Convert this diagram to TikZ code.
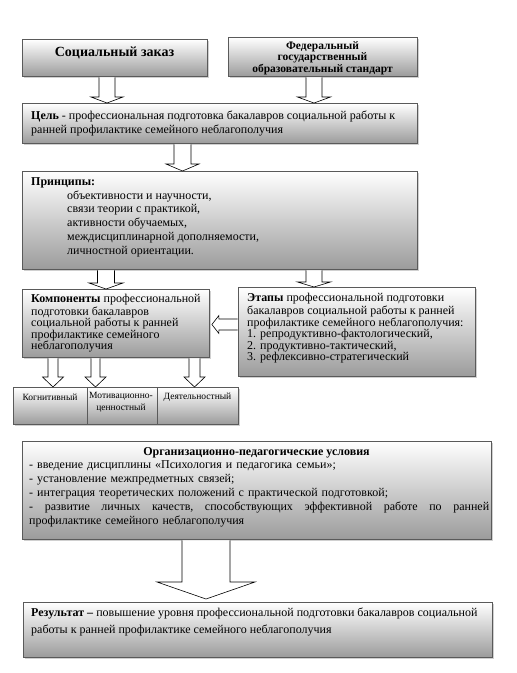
\documentclass[tikz,border=0pt]{standalone}
\usepackage{fontspec}
\setmainfont{Liberation Serif}
\usetikzlibrary{calc,shadows}
\definecolor{bordergray}{HTML}{5A5A5A}
\definecolor{boxgray}{HTML}{9B9B9B}
\newcommand\blkdown[7]{%
  \draw[barrow] let \p1=(#1.south), \p2=(#2.north) in
    (#3pt-#5pt,\y1-0.45pt) -- (#3pt-#5pt,\y2+#4pt+#7pt) -- (#3pt-#6pt,\y2+#4pt+#7pt)
    -- (#3pt,\y2+#7pt) -- (#3pt+#6pt,\y2+#4pt+#7pt) -- (#3pt+#5pt,\y2+#4pt+#7pt)
    -- (#3pt+#5pt,\y1-0.45pt);}
\newcommand\blkleft[7]{%
  \draw[barrow] let \p1=(#1.west), \p2=(#2.east) in
    (\x1-0.45pt,-#3pt+#5pt) -- (\x2+#7pt+#4pt,-#3pt+#5pt) -- (\x2+#7pt+#4pt,-#3pt+#6pt)
    -- (\x2+#7pt,-#3pt) -- (\x2+#7pt+#4pt,-#3pt-#6pt) -- (\x2+#7pt+#4pt,-#3pt-#5pt)
    -- (\x1-0.45pt,-#3pt-#5pt);}
\begin{document}
\begin{tikzpicture}[x=1pt,y=-1pt,
  box/.style={draw=bordergray, line width=0.9pt, top color=white, bottom color=boxgray,
    drop shadow={shadow xshift=2pt, shadow yshift=-2pt, fill=black!30, opacity=0.6},
    inner sep=0pt, anchor=north west},
  txt/.style={inner sep=0pt, anchor=north west, align=left, font=\fontsize{12}{14}\selectfont},
  ctxt/.style={inner sep=0pt, anchor=base},
  barrow/.style={draw=black, fill=white, line width=0.6pt, line join=miter}]
\useasboundingbox (0,0) rectangle (517,673);
\fill[white] (0,0) rectangle (517,673);

% boxes
\node[box, minimum width=185pt, minimum height=37pt] (social) at (22,39) {};
\node[box, minimum width=189pt, minimum height=39pt] (fgos) at (228,37) {};
\node[box, minimum width=395pt, minimum height=40pt] (goal) at (22,103) {};
\node[box, minimum width=395pt, minimum height=98pt] (princ) at (22,171) {};
\node[box, minimum width=187pt, minimum height=68pt] (comp) at (22,289) {};
\node[box, minimum width=237pt, minimum height=89pt] (stages) at (238,287) {};
\node[box, minimum width=74pt, minimum height=37pt] (cog) at (13,387) {};
\node[box, minimum width=70pt, minimum height=37pt] (mot) at (87,387) {};
\node[box, minimum width=81pt, minimum height=37pt] (act) at (157,387) {};
\node[box, minimum width=469pt, minimum height=98pt] (cond) at (22,441) {};
\node[box, minimum width=469pt, minimum height=55pt] (result) at (23,602) {};

% arrows
\blkdown{social}{goal}{107}{6}{8}{16}{0}
\blkdown{fgos}{goal}{314}{6}{8}{16.5}{0}
\blkdown{goal}{princ}{182.5}{7}{8.5}{16.5}{0}
\blkdown{princ}{comp}{106}{6}{8.5}{17}{0}
\blkdown{princ}{stages}{314}{5}{8}{16.5}{0}
\blkleft{stages}{comp}{324.5}{7}{5.5}{9}{2}
\blkdown{comp}{cog}{53}{10}{5}{10.5}{0}
\blkdown{comp}{mot}{95.5}{10}{4.5}{10.5}{0}
\blkdown{comp}{act}{194.5}{10}{5.5}{10.5}{0}
\blkdown{cond}{result}{206}{17}{24}{49}{3}

% texts
\node[ctxt, font=\fontsize{14}{16}\selectfont\bfseries] (socialt) at (114.5,56) {Социальный заказ};
\node[inner sep=0pt, anchor=north, align=center, font=\fontsize{11.5}{11.5}\selectfont\bfseries] (fgost) at (322.5,41)
  {\strut Федеральный\\государственный\\образовательный стандарт};
\node[txt] (goalt) at (31,109.2)
  {\strut\textbf{Цель} - профессиональная подготовка бакалавров социальной работы к\\ранней профилактике семейного неблагополучия};
\node[txt, font=\fontsize{12}{13.8}\selectfont\bfseries] (princt) at (31,175.3) {\strut Принципы:};
\node[txt, font=\fontsize{12}{13.8}\selectfont] (princl) at (67,189.3)
  {\strut объективности и научности,\\связи теории с практикой,\\активности обучаемых,\\междисциплинарной дополняемости,\\личностной ориентации.};
\node[txt, font=\fontsize{12}{11.2}\selectfont] (compt) at (31,294.2)
  {\strut\textbf{Компоненты} профессиональной\\подготовки бакалавров\\социальной работы к ранней\\профилактике семейного\\неблагополучия};
\node[txt, font=\fontsize{12}{11.6}\selectfont] (staget) at (247,292.9)
  {\strut\textbf{Этапы} профессиональной подготовки\\бакалавров социальной работы к ранней\\профилактике семейного неблагополучия:\\1. репродуктивно-фактологический,\\2. продуктивно-тактический,\\3. рефлексивно-стратегический};
\node[ctxt, font=\fontsize{9.5}{12.5}\selectfont] (cogt) at (50,400) {Когнитивный};
\node[inner sep=0pt, anchor=north, align=center, font=\fontsize{9.5}{12.5}\selectfont] (mott) at (121,389.3)
  {\strut Мотивационно-\\ценностный};
\node[ctxt, font=\fontsize{9.5}{12.5}\selectfont] (actt) at (197.5,399) {Деятельностный};
\node[ctxt, font=\fontsize{12}{14}\selectfont\bfseries] (condt) at (256.5,455) {Организационно-педагогические условия};
\node[txt, text width=460pt] (condb) at (29,458.2)
  {\strut - введение дисциплины «Психология и педагогика семьи»;\\- установление межпредметных связей;\\- интеграция теоретических положений с практической подготовкой;\\\leavevmode\hbox to 460pt{-\hfill развитие\hfill личных\hfill качеств,\hfill способствующих\hfill эффективной\hfill работе\hfill по\hfill ранней}\\профилактике семейного неблагополучия};
\node[txt, font=\fontsize{12}{17}\selectfont] (rest) at (31,604.1)
  {\strut\textbf{Результат –} повышение уровня профессиональной подготовки бакалавров социальной\\работы к ранней профилактике семейного неблагополучия};
\end{tikzpicture}
\end{document}
